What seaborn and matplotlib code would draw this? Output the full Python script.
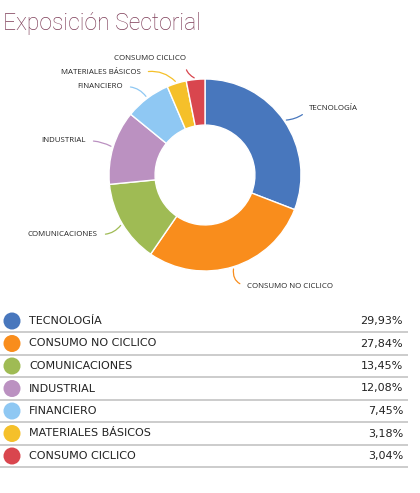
import matplotlib
matplotlib.use("Agg")
import matplotlib.pyplot as plt
import numpy as np
import pandas as pd
import seaborn as sns

sectors = ['TECNOLOGÍA', 'CONSUMO NO CICLICO', 'COMUNICACIONES', 'INDUSTRIAL',
           'FINANCIERO', 'MATERIALES BÁSICOS', 'CONSUMO CICLICO']
weights = [29.93, 27.84, 13.45, 12.08, 7.45, 3.18, 3.04]
value_labels = ['29,93%', '27,84%', '13,45%', '12,08%', '7,45%', '3,18%', '3,04%']
colors = ['#4877bd', '#f98d1c', '#9fbb54', '#bb91c1', '#8fc8f3', '#f5c02a', '#d9464e']

# label text positions for the donut (pixels in the 420x493 image), alignment, curve
label_pos = {
    'TECNOLOGÍA': (309, 109, 'left', -0.2),
    'CONSUMO NO CICLICO': (247, 286, 'left', -0.5),
    'COMUNICACIONES': (98, 234, 'right', 0.3),
    'INDUSTRIAL': (86, 141, 'right', -0.15),
    'FINANCIERO': (123, 87, 'right', -0.3),
    'MATERIALES BÁSICOS': (141, 73, 'right', -0.3),
    'CONSUMO CICLICO': (186, 59, 'right', 0.4),
}

W, H = 420, 493
CX, CY, R = 205, 175, 96

sns.set_theme(style='white')
plt.rcParams['font.family'] = ['DejaVu Sans']

fig = plt.figure(figsize=(W / 100, H / 100), dpi=100)
fig.patch.set_facecolor('white')

fig.text(3 / W, 1 - 30 / H, 'Exposición Sectorial', fontsize=16.5,
         color='#7e3d58', family=['Roboto', 'DejaVu Sans'], fontweight='light',
         ha='left', va='baseline')

# donut
top, bottom = 40, 300
ax = fig.add_axes([0, 1 - bottom / H, 1, (bottom - top) / H])
wedges, _ = ax.pie(weights, colors=colors, startangle=90, counterclock=False,
                   radius=1.0, center=(0, 0), frame=True,
                   wedgeprops=dict(width=0.48, edgecolor='white', linewidth=1.0))
ax.set_xlim(-CX / R, (W - CX) / R)
ax.set_ylim(-(bottom - CY) / R, (CY - top) / R)
ax.set_aspect('auto')
ax.axis('off')


def to_data(px, py):
    return (px - CX) / R, (CY - py) / R


for w, name, col in zip(wedges, sectors, colors):
    mid = np.deg2rad((w.theta1 + w.theta2) / 2)
    anchor = (1.01 * np.cos(mid), 1.01 * np.sin(mid))
    px, py, ha, rad = label_pos[name]
    tx, ty = to_data(px, py)
    rel = (0, 0.5) if ha == 'left' else (1, 0.5)
    ax.annotate(name, xy=anchor, xytext=(tx, ty), ha=ha, va='center',
                fontsize=5.7, color='#222222', family=['Open Sans', 'DejaVu Sans'],
                arrowprops=dict(arrowstyle='-', color=col, lw=0.9,
                                shrinkA=3, shrinkB=1, relpos=rel,
                                connectionstyle=f'arc3,rad={rad}'))

# legend table
row_h = 22.5
first = 321
tab_top = first - row_h / 2
tab_bot = tab_top + row_h * len(sectors)
tx = fig.add_axes([0, 1 - tab_bot / H, 1, (tab_bot - tab_top) / H])
df = pd.DataFrame({'sector': sectors, 'row': np.arange(len(sectors)),
                   'x': 12, 'value': value_labels})
sns.scatterplot(data=df, x='x', y='row', hue='sector', palette=colors,
                s=150, edgecolor='none', legend=False, ax=tx)
tx.set_xlim(0, W)
tx.set_ylim(len(sectors) - 0.5, -0.5)
tx.axis('off')
for _, r in df.iterrows():
    tx.text(29, r['row'], r['sector'], fontsize=8, color='#222222',
            ha='left', va='center')
    tx.text(403, r['row'], r['value'], fontsize=8, color='#222222',
            ha='right', va='center')
    tx.plot([0, 408], [r['row'] + 0.5, r['row'] + 0.5], color='#c8c8c8',
            lw=1.3, clip_on=False, solid_capstyle='butt')

fig.savefig('out.png', dpi=100, facecolor='white')
